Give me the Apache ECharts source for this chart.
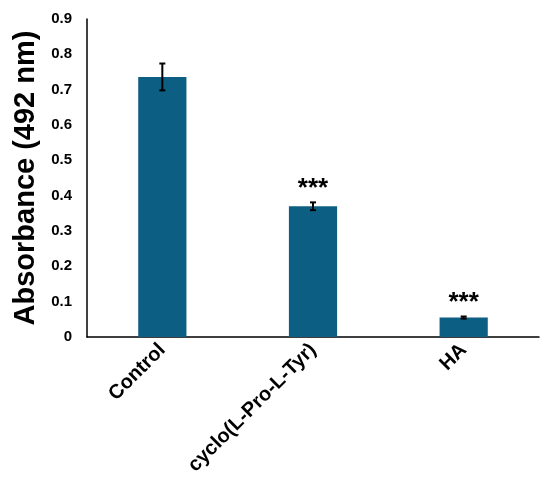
<!DOCTYPE html>
<html>
<head>
<meta charset="utf-8">
<script src="https://cdn.jsdelivr.net/npm/echarts@6/dist/echarts.min.js"></script>
<style>
  html, body { margin: 0; padding: 0; background: #fff; }
  #chart { width: 550px; height: 498px; }
</style>
</head>
<body>
<div id="chart"></div>
<script>
const categories = ['Control', 'cyclo(L-Pro-L-Tyr)', 'HA'];
const absorbance = [0.736, 0.370, 0.055];
const errors = [0.038, 0.011, 0.003];
const significance = ['', '***', '***'];

const chart = echarts.init(document.getElementById('chart'));
const font = 'Arial, "Liberation Sans", sans-serif';

chart.setOption({
  animation: false,
  grid: { left: 87, right: 11, top: 19, bottom: 161, outerBoundsMode: 'none', containLabel: false },
  xAxis: {
    type: 'category',
    data: categories,
    axisLine: { lineStyle: { color: '#000', width: 1.5 } },
    axisTick: { show: false },
    axisLabel: {
      rotate: 45,
      interval: 0,
      margin: 10,
      color: '#000',
      fontSize: 20,
      fontWeight: 'bold',
      fontFamily: font
    }
  },
  yAxis: {
    type: 'value',
    min: 0,
    max: 0.9,
    interval: 0.1,
    name: 'Absorbance (492 nm)',
    nameLocation: 'middle',
    nameGap: 37,
    nameTextStyle: { color: '#000', fontSize: 29, fontWeight: 'bold', fontFamily: font },
    axisLine: { show: true, lineStyle: { color: '#000', width: 1.5 } },
    axisTick: { show: false },
    splitLine: { show: false },
    axisLabel: {
      margin: 15,
      color: '#000',
      fontSize: 15,
      fontWeight: 'bold',
      fontFamily: font
    }
  },
  series: [
    {
      type: 'bar',
      data: absorbance,
      barWidth: '32%',
      itemStyle: { color: '#0c5f82' }
    },
    {
      type: 'custom',
      data: absorbance.map((v, i) => [i, v, errors[i]]),
      renderItem: (params, api) => {
        const i = api.value(0);
        const v = api.value(1);
        const e = api.value(2);
        const top = api.coord([i, v + e]);
        const bot = api.coord([i, v - e]);
        const cap = 3;
        const style = { stroke: '#000', lineWidth: 2 };
        const children = [
          { type: 'line', shape: { x1: top[0], y1: top[1], x2: bot[0], y2: bot[1] }, style },
          { type: 'line', shape: { x1: top[0] - cap, y1: top[1], x2: top[0] + cap, y2: top[1] }, style },
          { type: 'line', shape: { x1: bot[0] - cap, y1: bot[1], x2: bot[0] + cap, y2: bot[1] }, style }
        ];
        const sig = significance[i];
        if (sig) {
          children.push({
            type: 'text',
            style: {
              text: sig,
              x: top[0],
              y: top[1] - 14,
              align: 'center',
              verticalAlign: 'middle',
              fill: '#000',
              font: 'bold 26px ' + font
            }
          });
        }
        return { type: 'group', children };
      },
      z: 5
    }
  ]
});
</script>
</body>
</html>
